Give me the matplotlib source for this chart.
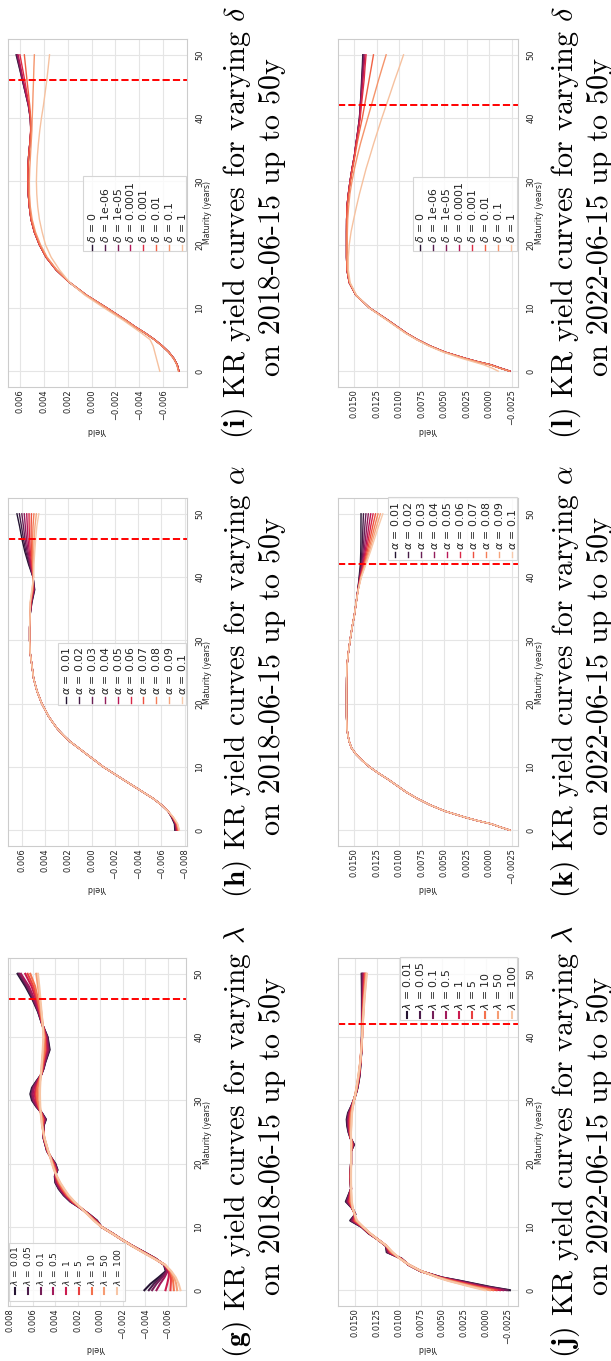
import numpy as np
import matplotlib
matplotlib.use('Agg')
import matplotlib.pyplot as plt
import seaborn as sns
from matplotlib.lines import Line2D
from matplotlib.patches import Rectangle
from matplotlib.ticker import FixedLocator, FuncFormatter

# ---------------- data (yields in units of 1e-3) ----------------
# (g) 2018-06-15, varying lambda
g_params = ['0.01', '0.05', '0.1', '0.5', '1', '5', '10', '50', '100']
g_mat = [0, 1, 2, 3, 4, 5, 6, 7, 8, 9, 10, 11, 12, 13, 14, 15, 16, 17, 18, 19, 20, 21, 22,
         24, 26, 27, 28, 29, 30, 31, 32, 33, 34, 35, 36, 38, 40, 42, 44, 46, 48, 50]
g_curves = [
    [-3.91, -4.45, -5.15, -5.80, -5.65, -4.90, -3.90, -2.85, -1.90, -1.05, -0.10, 0.30, 1.00, 1.78, 2.67, 3.26, 3.70, 4.00, 4.05, 3.80, 4.00, 4.39, 4.74, 5.04, 5.04, 4.83, 5.19, 5.69, 6.07, 6.22, 6.07, 5.69, 5.27, 5.04, 4.89, 4.50, 4.68, 5.16, 5.54, 6.04, 6.65, 7.35],
    [-4.30, -4.75, -5.34, -5.86, -5.66, -4.89, -3.89, -2.85, -1.90, -1.05, -0.10, 0.32, 1.01, 1.78, 2.64, 3.22, 3.66, 3.96, 4.03, 3.83, 4.02, 4.39, 4.73, 5.03, 5.05, 4.86, 5.20, 5.66, 6.01, 6.15, 6.01, 5.66, 5.27, 5.06, 4.91, 4.55, 4.71, 5.16, 5.51, 5.98, 6.55, 7.26],
    [-4.59, -4.98, -5.48, -5.91, -5.67, -4.88, -3.88, -2.84, -1.90, -1.04, -0.10, 0.35, 1.02, 1.77, 2.61, 3.19, 3.63, 3.93, 4.02, 3.85, 4.05, 4.40, 4.72, 5.03, 5.06, 4.89, 5.21, 5.64, 5.96, 6.09, 5.96, 5.63, 5.27, 5.07, 4.94, 4.59, 4.74, 5.15, 5.49, 5.93, 6.47, 7.17],
    [-4.98, -5.30, -5.68, -5.97, -5.68, -4.86, -3.86, -2.84, -1.90, -1.04, -0.10, 0.38, 1.04, 1.77, 2.58, 3.15, 3.58, 3.89, 4.00, 3.88, 4.08, 4.41, 4.71, 5.02, 5.08, 4.94, 5.22, 5.60, 5.89, 6.00, 5.89, 5.60, 5.27, 5.09, 4.97, 4.66, 4.78, 5.15, 5.46, 5.86, 6.34, 7.05],
    [-5.78, -5.93, -6.06, -6.10, -5.71, -4.83, -3.83, -2.83, -1.90, -1.03, -0.10, 0.44, 1.07, 1.75, 2.50, 3.06, 3.48, 3.80, 3.96, 3.94, 4.14, 4.42, 4.69, 5.00, 5.10, 5.02, 5.24, 5.53, 5.75, 5.83, 5.75, 5.52, 5.27, 5.13, 5.03, 4.78, 4.85, 5.14, 5.40, 5.72, 6.10, 6.67],
    [-6.22, -6.25, -6.27, -6.16, -5.72, -4.81, -3.81, -2.82, -1.90, -1.02, -0.10, 0.47, 1.09, 1.75, 2.46, 3.00, 3.41, 3.74, 3.93, 3.99, 4.17, 4.42, 4.67, 4.99, 5.12, 5.07, 5.25, 5.48, 5.65, 5.72, 5.65, 5.48, 5.28, 5.16, 5.07, 4.86, 4.90, 5.14, 5.35, 5.62, 5.94, 6.46],
    [-6.52, -6.48, -6.41, -6.21, -5.73, -4.80, -3.80, -2.82, -1.90, -1.02, -0.10, 0.51, 1.11, 1.74, 2.41, 2.95, 3.35, 3.69, 3.91, 4.02, 4.21, 4.43, 4.66, 4.98, 5.14, 5.12, 5.27, 5.44, 5.57, 5.62, 5.57, 5.43, 5.28, 5.18, 5.11, 4.93, 4.95, 5.13, 5.32, 5.54, 5.79, 6.22],
    [-6.81, -6.73, -6.56, -6.26, -5.74, -4.77, -3.77, -2.81, -1.90, -1.01, -0.10, 0.57, 1.14, 1.73, 2.34, 2.86, 3.25, 3.60, 3.87, 4.09, 4.27, 4.44, 4.63, 4.96, 5.17, 5.21, 5.29, 5.37, 5.42, 5.45, 5.42, 5.36, 5.28, 5.22, 5.17, 5.06, 5.02, 5.12, 5.25, 5.39, 5.54, 5.69],
    [-7.11, -6.95, -6.70, -6.30, -5.75, -4.75, -3.75, -2.80, -1.90, -1.00, -0.10, 0.60, 1.15, 1.72, 2.30, 2.81, 3.20, 3.56, 3.85, 4.12, 4.30, 4.45, 4.62, 4.95, 5.18, 5.25, 5.30, 5.33, 5.35, 5.36, 5.35, 5.32, 5.28, 5.24, 5.20, 5.12, 5.06, 5.12, 5.22, 5.32, 5.42, 5.54],
]

# (h) 2018-06-15, varying alpha
h_params = ['0.01', '0.02', '0.03', '0.04', '0.05', '0.06', '0.07', '0.08', '0.09', '0.1']
h_mat = [0, 1, 2, 3, 4, 5, 6, 7, 8, 9, 10, 11, 12, 13, 14, 15, 16, 17, 18,
         20, 22, 24, 26, 28, 30, 32, 34, 36, 38, 40, 42, 44, 46, 48, 50]
h_heads = [
    [-7.15, -7.12, -6.88], [-7.19, -7.15, -6.90], [-7.24, -7.18, -6.92], [-7.28, -7.21, -6.94],
    [-7.33, -7.24, -6.96], [-7.37, -7.27, -6.97], [-7.42, -7.30, -6.99], [-7.46, -7.33, -7.01],
    [-7.51, -7.37, -7.03], [-7.55, -7.40, -7.05],
]
h_mid = [-6.57, -6.00, -5.29, -4.43, -3.57, -2.71, -1.86, -1.00, -0.29, 0.43, 1.14, 1.86,
         2.43, 2.94, 3.34, 3.71, 4.29, 4.71, 5.00, 5.14, 5.29, 5.34, 5.34, 5.30]
h_tails = [
    [5.14, 4.90, 5.05, 5.43, 5.75, 6.00, 6.20, 6.43],
    [5.16, 4.93, 5.04, 5.38, 5.66, 5.87, 6.04, 6.22],
    [5.18, 4.96, 5.04, 5.33, 5.56, 5.74, 5.87, 6.01],
    [5.19, 4.98, 5.03, 5.28, 5.47, 5.61, 5.71, 5.80],
    [5.21, 5.01, 5.03, 5.23, 5.37, 5.48, 5.54, 5.59],
    [5.23, 5.04, 5.02, 5.17, 5.28, 5.34, 5.38, 5.39],
    [5.25, 5.07, 5.02, 5.12, 5.18, 5.21, 5.21, 5.18],
    [5.26, 5.09, 5.01, 5.07, 5.09, 5.08, 5.05, 4.97],
    [5.28, 5.12, 5.01, 5.02, 4.99, 4.95, 4.88, 4.76],
    [5.30, 5.15, 5.00, 4.97, 4.90, 4.82, 4.72, 4.55],
]
h_curves = [hd + h_mid + tl for hd, tl in zip(h_heads, h_tails)]

# (i) 2018-06-15, varying delta
i_params = ['0', '1e-06', '1e-05', '0.0001', '0.001', '0.01', '0.1', '1']
i_mat = [0, 1, 2, 3, 4, 5, 6, 7, 8, 10, 12, 14, 16, 18, 20, 22, 24, 26, 28, 30, 32, 34,
         36, 38, 40, 42, 44, 46, 48, 50]
i_head = [-7.32, -7.18, -6.90, -6.48, -5.92, -5.27, -4.51, -3.66, -2.90, -1.27, 0.42, 1.83,
          2.96, 3.80, 4.37, 4.79, 5.07, 5.21, 5.30, 5.33, 5.33, 5.27]
i_tails = [
    [5.17, 5.08, 5.14, 5.30, 5.55, 5.80, 6.06, 6.32],
    [5.17, 5.08, 5.13, 5.29, 5.54, 5.79, 6.03, 6.28],
    [5.17, 5.08, 5.13, 5.28, 5.52, 5.76, 5.99, 6.22],
    [5.17, 5.09, 5.12, 5.27, 5.49, 5.72, 5.93, 6.15],
    [5.17, 5.10, 5.12, 5.24, 5.42, 5.60, 5.80, 6.00],
    [5.16, 5.10, 5.10, 5.18, 5.29, 5.41, 5.52, 5.63],
]
i_curves = [i_head + tl for tl in i_tails] + [
    [-7.28, -7.15, -6.88, -6.46, -5.90, -5.25, -4.49, -3.64, -2.88, -1.25, 0.42, 1.80, 2.90, 3.72, 4.28,
     4.70, 4.98, 5.13, 5.20, 5.21, 5.18, 5.12, 5.06, 5.00, 4.97, 4.93, 4.90, 4.86, 4.83, 4.79],
    [-5.72, -5.58, -5.44, -5.30, -5.16, -4.90, -4.20, -3.45, -2.70, -1.05, 0.55, 1.83, 2.68, 3.38, 3.86,
     4.14, 4.37, 4.51, 4.59, 4.62, 4.59, 4.54, 4.45, 4.34, 4.20, 4.03, 3.89, 3.75, 3.63, 3.52],
]

# (j) 2022-06-15, varying lambda
j_params = ['0.01', '0.05', '0.1', '0.5', '1', '5', '10', '50', '100']
j_mat = [0, 0.5, 1, 1.5, 2, 3, 4, 5, 6, 7, 8, 9, 10, 11, 12, 13, 14, 15, 16, 18, 20, 22, 23,
         24, 25, 26, 27, 28, 29, 30, 31, 32, 34, 36, 38, 40, 42, 44, 46, 48, 50]
j_curves = [
    [-2.77, -0.60, 1.20, 3.00, 5.00, 7.50, 8.90, 9.70, 11.40, 11.50, 12.40, 13.50, 14.30, 15.60, 15.00, 15.40, 16.10, 15.80, 15.50, 15.60, 15.50, 15.50, 15.15, 15.55, 15.80, 15.95, 16.00, 15.85, 15.50, 15.20, 14.95, 14.75, 14.50, 14.40, 14.30, 14.25, 14.25, 14.25, 14.25, 14.26, 14.28],
    [-2.58, -0.38, 1.38, 3.14, 5.05, 7.49, 8.89, 9.72, 11.33, 11.49, 12.40, 13.48, 14.28, 15.52, 15.01, 15.39, 16.03, 15.77, 15.50, 15.59, 15.50, 15.50, 15.19, 15.55, 15.77, 15.90, 15.94, 15.80, 15.48, 15.20, 14.96, 14.76, 14.52, 14.41, 14.30, 14.25, 14.24, 14.23, 14.22, 14.22, 14.22],
    [-2.38, -0.16, 1.56, 3.28, 5.10, 7.48, 8.88, 9.74, 11.26, 11.48, 12.40, 13.46, 14.26, 15.44, 15.02, 15.38, 15.96, 15.73, 15.50, 15.58, 15.50, 15.50, 15.22, 15.54, 15.74, 15.85, 15.88, 15.76, 15.46, 15.19, 14.96, 14.78, 14.53, 14.41, 14.30, 14.24, 14.23, 14.21, 14.19, 14.17, 14.16],
    [-2.00, 0.17, 1.83, 3.49, 5.18, 7.47, 8.87, 9.77, 11.16, 11.47, 12.40, 13.43, 14.23, 15.32, 15.04, 15.37, 15.86, 15.68, 15.50, 15.57, 15.50, 15.50, 15.27, 15.53, 15.70, 15.78, 15.80, 15.69, 15.42, 15.18, 14.97, 14.80, 14.55, 14.42, 14.31, 14.24, 14.22, 14.18, 14.15, 14.11, 14.07],
    [-1.62, 0.50, 2.10, 3.70, 5.25, 7.45, 8.85, 9.80, 11.05, 11.45, 12.40, 13.40, 14.20, 15.20, 15.05, 15.35, 15.75, 15.63, 15.50, 15.55, 15.50, 15.50, 15.33, 15.53, 15.65, 15.70, 15.71, 15.62, 15.39, 15.18, 14.98, 14.82, 14.58, 14.43, 14.31, 14.24, 14.20, 14.15, 14.10, 14.04, 13.98],
    [-1.23, 0.76, 2.32, 3.87, 5.31, 7.44, 8.84, 9.82, 10.97, 11.44, 12.40, 13.38, 14.18, 15.10, 15.06, 15.34, 15.67, 15.58, 15.50, 15.54, 15.50, 15.50, 15.37, 15.52, 15.61, 15.64, 15.64, 15.56, 15.36, 15.17, 14.98, 14.83, 14.59, 14.43, 14.31, 14.23, 14.19, 14.13, 14.06, 13.99, 13.91],
    [-0.85, 1.05, 2.55, 4.05, 5.38, 7.43, 8.83, 9.85, 10.88, 11.43, 12.40, 13.35, 14.15, 15.00, 15.08, 15.33, 15.58, 15.54, 15.50, 15.53, 15.50, 15.50, 15.41, 15.51, 15.58, 15.58, 15.57, 15.50, 15.34, 15.16, 14.99, 14.85, 14.61, 14.44, 14.32, 14.23, 14.18, 14.10, 14.03, 13.93, 13.83],
    [-0.46, 1.38, 2.82, 4.26, 5.45, 7.41, 8.81, 9.88, 10.77, 11.41, 12.40, 13.32, 14.12, 14.88, 15.09, 15.31, 15.47, 15.49, 15.50, 15.51, 15.50, 15.50, 15.47, 15.50, 15.53, 15.50, 15.48, 15.43, 15.30, 15.16, 15.00, 14.87, 14.64, 14.45, 14.32, 14.22, 14.16, 14.07, 13.98, 13.86, 13.74],
    [0.12, 1.60, 3.00, 4.40, 5.50, 7.40, 8.80, 9.90, 10.70, 11.40, 12.40, 13.30, 14.10, 14.80, 15.10, 15.30, 15.40, 15.45, 15.50, 15.50, 15.50, 15.50, 15.50, 15.50, 15.50, 15.45, 15.42, 15.38, 15.28, 15.15, 15.00, 14.88, 14.65, 14.45, 14.32, 14.22, 14.15, 14.05, 13.95, 13.82, 13.68],
]

# (k) 2022-06-15, varying alpha
k_params = ['0.01', '0.02', '0.03', '0.04', '0.05', '0.06', '0.07', '0.08', '0.09', '0.1']
k_mat = [0, 0.5, 1, 1.5, 2, 3, 4, 5, 6, 7, 8, 9, 10, 11, 12, 13, 14, 15, 16, 18, 20, 22, 24,
         26, 28, 30, 32, 34, 36, 38, 40, 42, 44, 46, 48, 50]
k_head = [-2.30, -1.20, -0.20, 1.30, 2.60, 4.90, 6.60, 8.00, 9.20, 10.20, 11.20, 12.30, 13.30,
          14.10, 14.80, 15.30, 15.55, 15.70, 15.80, 15.85, 15.85, 15.85, 15.84, 15.80, 15.65,
          15.46, 15.24, 14.98, 14.78]
k_tails = [
    [14.60, 14.45, 14.32, 14.27, 14.25, 14.25, 14.24],
    [14.59, 14.42, 14.25, 14.15, 14.08, 14.03, 13.97],
    [14.59, 14.39, 14.18, 14.03, 13.92, 13.82, 13.70],
    [14.58, 14.37, 14.11, 13.91, 13.75, 13.60, 13.43],
    [14.58, 14.34, 14.04, 13.79, 13.58, 13.38, 13.16],
    [14.57, 14.31, 13.98, 13.68, 13.42, 13.17, 12.90],
    [14.57, 14.28, 13.91, 13.56, 13.25, 12.95, 12.63],
    [14.56, 14.26, 13.84, 13.44, 13.08, 12.73, 12.36],
    [14.56, 14.23, 13.77, 13.32, 12.92, 12.52, 12.09],
    [14.55, 14.20, 13.70, 13.20, 12.75, 12.30, 11.82],
]
k_curves = [k_head + tl for tl in k_tails]

# (l) 2022-06-15, varying delta
l_params = ['0', '1e-06', '1e-05', '0.0001', '0.001', '0.01', '0.1', '1']
l_mat = [0, 0.5, 1, 1.5, 2, 3, 4, 5, 6, 7, 8, 10, 12, 14, 16, 18, 20, 22, 24, 26, 28, 30,
         32, 34, 36, 38, 40, 42, 44, 46, 48, 50]
l_head = [-2.30, -1.20, -0.20, 1.30, 2.60, 4.90, 6.60, 8.00, 9.20, 10.20, 11.20, 13.30, 14.80,
          15.55, 15.80, 15.85, 15.85, 15.85, 15.84, 15.80, 15.65, 15.46, 15.24, 14.98]
l_tails = [
    [14.80, 14.60, 14.42, 14.33, 14.24, 14.18, 14.10, 14.05],
    [14.80, 14.60, 14.42, 14.32, 14.22, 14.15, 14.07, 14.00],
    [14.80, 14.58, 14.40, 14.30, 14.20, 14.10, 14.00, 13.90],
    [14.79, 14.57, 14.38, 14.27, 14.15, 14.03, 13.92, 13.80],
    [14.78, 14.55, 14.33, 14.20, 14.05, 13.90, 13.80, 13.68],
]
l_curves = [l_head + tl for tl in l_tails] + [
    [-2.30, -1.20, -0.20, 1.30, 2.60, 4.90, 6.60, 8.00, 9.20, 10.20, 11.20, 13.30, 14.80, 15.55, 15.80, 15.85,
     15.85, 15.85, 15.84, 15.78, 15.62, 15.42, 15.18, 14.92, 14.68, 14.40, 14.10, 13.85, 13.60, 13.35, 13.10, 12.86],
    [-2.25, -1.10, -0.10, 1.40, 2.70, 4.95, 6.65, 8.05, 9.25, 10.25, 11.25, 13.30, 14.78, 15.50, 15.75, 15.78,
     15.78, 15.76, 15.72, 15.62, 15.48, 15.25, 14.97, 14.65, 14.30, 13.90, 13.50, 13.10, 12.70, 12.30, 11.88, 11.45],
    [-1.00, -0.30, 0.60, 1.80, 3.00, 5.10, 6.75, 8.10, 9.30, 10.30, 11.30, 13.35, 14.75, 15.45, 15.65, 15.65,
     15.55, 15.35, 15.06, 14.75, 14.42, 14.05, 13.68, 13.25, 12.83, 12.38, 11.93, 11.45, 10.97, 10.50, 10.00, 9.52],
]

ticks_2018_g = [-0.006, -0.004, -0.002, 0.0, 0.002, 0.004, 0.006, 0.008]
ticks_2018_h = [-0.008, -0.006, -0.004, -0.002, 0.0, 0.002, 0.004, 0.006]
ticks_2018_i = [-0.006, -0.004, -0.002, 0.0, 0.002, 0.004, 0.006]
ticks_2022 = [-0.0025, 0.0, 0.0025, 0.005, 0.0075, 0.01, 0.0125, 0.015]
mat_ticks = [0, 10, 20, 30, 40, 50]

# ---------------- layout (figure pixels, origin top-left) ----------------
W, H = 611, 1361
fig = plt.figure(figsize=(W / 100, H / 100), dpi=100)
fig.patch.set_facecolor('white')

panels = [
    dict(key='g', sym=r'\lambda', date='2018-06-15', mat=g_mat, curves=g_curves, params=g_params,
         box=(8, 958, 186, 1306), xlim=(0.0082, -0.0076), ticks=ticks_2018_g, fmt='{:.3f}', cut=46, lw=1.5,
         leg=dict(box=(9, 1243, 125, 1301), x=15, step=12.75, hy=(1288, 1294), ty=1286, fs=6.6),
         cap=(237, 272)),
    dict(key='h', sym=r'\alpha', date='2018-06-15', mat=h_mat, curves=h_curves, params=h_params,
         box=(8, 498, 187, 846), xlim=(0.0072, -0.0082), ticks=ticks_2018_h, fmt='{:.3f}', cut=46, lw=1.0,
         leg=dict(box=(58, 643, 186, 705), x=66, step=12.9, hy=(697, 703), ty=695, fs=7.8),
         cap=(237, 272)),
    dict(key='i', sym=r'\delta', date='2018-06-15', mat=i_mat, curves=i_curves, params=i_params,
         box=(8, 39, 187, 387), xlim=(0.0070, -0.0080), ticks=ticks_2018_i, fmt='{:.3f}', cut=46, lw=1.0,
         leg=dict(box=(83, 176, 186, 251), x=91.7, step=12.9, hy=(245, 250), ty=243, fs=7.8),
         cap=(237, 272)),
    dict(key='j', sym=r'\lambda', date='2022-06-15', mat=j_mat, curves=j_curves, params=j_params,
         box=(338, 958, 518, 1306), xlim=(0.0170, -0.0037), ticks=ticks_2022, fmt='{:.4f}', cut=42, lw=1.5,
         leg=dict(box=(400, 957, 517, 1020), x=406.7, step=13.1, hy=(1012, 1018), ty=1010, fs=7.8),
         cap=(565, 600)),
    dict(key='k', sym=r'\alpha', date='2022-06-15', mat=k_mat, curves=k_curves, params=k_params,
         box=(338, 498, 518, 846), xlim=(0.0168, -0.0032), ticks=ticks_2022, fmt='{:.4f}', cut=42, lw=1.0,
         leg=dict(box=(388, 497, 517, 560), x=395, step=13.0, hy=(552, 557), ty=550, fs=7.8),
         cap=(565, 600)),
    dict(key='l', sym=r'\delta', date='2022-06-15', mat=l_mat, curves=l_curves, params=l_params,
         box=(338, 39, 518, 387), xlim=(0.0168, -0.0032), ticks=ticks_2022, fmt='{:.4f}', cut=42, lw=1.0,
         leg=dict(box=(413, 177, 517, 251), x=420, step=13.0, hy=(245, 250), ty=243, fs=7.8),
         cap=(565, 600)),
]


def fx(px):
    return px / W


def fy(py):
    return 1 - py / H


def to_axes(box, px, py):
    x0, y0, x1, y1 = box
    return (px - x0) / (x1 - x0), (y1 - py) / (y1 - y0)


def rot_legend(ax, box, labels, colors, lw, leg):
    bx0, by0, bx1, by1 = leg['box']
    ax0, ay0 = to_axes(box, bx0, by1)
    ax1, ay1 = to_axes(box, bx1, by0)
    ax.add_patch(Rectangle((ax0, ay0), ax1 - ax0, ay1 - ay0, transform=ax.transAxes,
                           facecolor=(1, 1, 1, 0.8), edgecolor='#d5d5d5', lw=0.8,
                           zorder=5, clip_on=False))
    for n, (lab, col) in enumerate(zip(labels, colors)):
        px = leg['x'] + n * leg['step']
        hx, hy0 = to_axes(box, px, leg['hy'][1])
        _, hy1 = to_axes(box, px, leg['hy'][0])
        ax.add_line(Line2D([hx, hx], [hy0, hy1], transform=ax.transAxes, color=col,
                           lw=lw, zorder=6, clip_on=False))
        _, ty = to_axes(box, px, leg['ty'])
        ax.text(hx, ty, lab, transform=ax.transAxes, rotation=90, ha='center', va='bottom',
                fontsize=leg['fs'], color='#222222', zorder=7)


captions = []
for p in panels:
    x0, y0, x1, y1 = p['box']
    ax = fig.add_axes([fx(x0), fy(y1), (x1 - x0) / W, (y1 - y0) / H])
    ax.set_facecolor('white')
    colors = sns.color_palette('rocket', len(p['curves']))

    for vals, col in zip(p['curves'], colors):
        ax.plot(np.array(vals) / 1000.0, p['mat'], color=col, lw=p['lw'])
    ax.axhline(p['cut'], color='red', ls='--', lw=1.4)

    ax.set_xlim(*p['xlim'])
    ax.set_ylim(-2.5, 52.5)
    ax.xaxis.set_major_locator(FixedLocator(p['ticks']))
    fmt = p['fmt']
    ax.xaxis.set_major_formatter(FuncFormatter(lambda v, pos, f=fmt: f.format(v).replace('-', '\u2212')))
    ax.yaxis.set_major_locator(FixedLocator(mat_ticks))
    ax.yaxis.tick_right()
    ax.tick_params(axis='x', labelrotation=90, pad=1.5, length=0, labelsize=6, labelcolor='#222222')
    ax.tick_params(axis='y', labelrotation=90, pad=6, length=0, labelsize=6, labelcolor='#222222')
    plt.setp(ax.get_yticklabels(), va='center')
    ax.grid(True, color='#e5e5e5', lw=0.8)
    ax.set_axisbelow(True)
    for s in ax.spines.values():
        s.set_color('#cccccc')
        s.set_linewidth(0.8)

    # axis titles (rotated with the page)
    fig.text(fx(x1 + 21), fy((y0 + y1) / 2), 'Maturity (years)', rotation=90,
             ha='center', va='center', fontsize=5.6, color='#222222')
    fig.text(fx((x0 + x1) / 2), fy(y1 + 43), 'Yield', rotation=180,
             ha='center', va='center', fontsize=5.8, color='#222222')

    labels = [r'$%s$ = %s' % (p['sym'], v) for v in p['params']]
    rot_legend(ax, p['box'], labels, colors, p['lw'], p['leg'])

    # caption, two lines below the panel
    yc = (y0 + y1) / 2
    t1 = fig.text(fx(p['cap'][0]), fy(yc + 10),
                  r'$\mathbf{(%s)}$ KR yield curves for varying $%s$' % (p['key'], p['sym']),
                  rotation=90, ha='center', va='center', fontsize=20, family='cmr10',
                  math_fontfamily='cm')
    t2 = fig.text(fx(p['cap'][1]), fy(yc + 4), 'on %s up to 50y' % p['date'],
                  rotation=90, ha='center', va='center', fontsize=20, family='cmr10',
                  math_fontfamily='cm')
    captions += [(t1, 433), (t2, 318)]

# scale caption fonts so each line spans the same length as in the reference
renderer = fig.canvas.get_renderer()
for t, target in captions:
    bb = t.get_window_extent(renderer=renderer)
    t.set_fontsize(t.get_fontsize() * target / bb.height)

fig.savefig('out.png', dpi=100, facecolor='white')
